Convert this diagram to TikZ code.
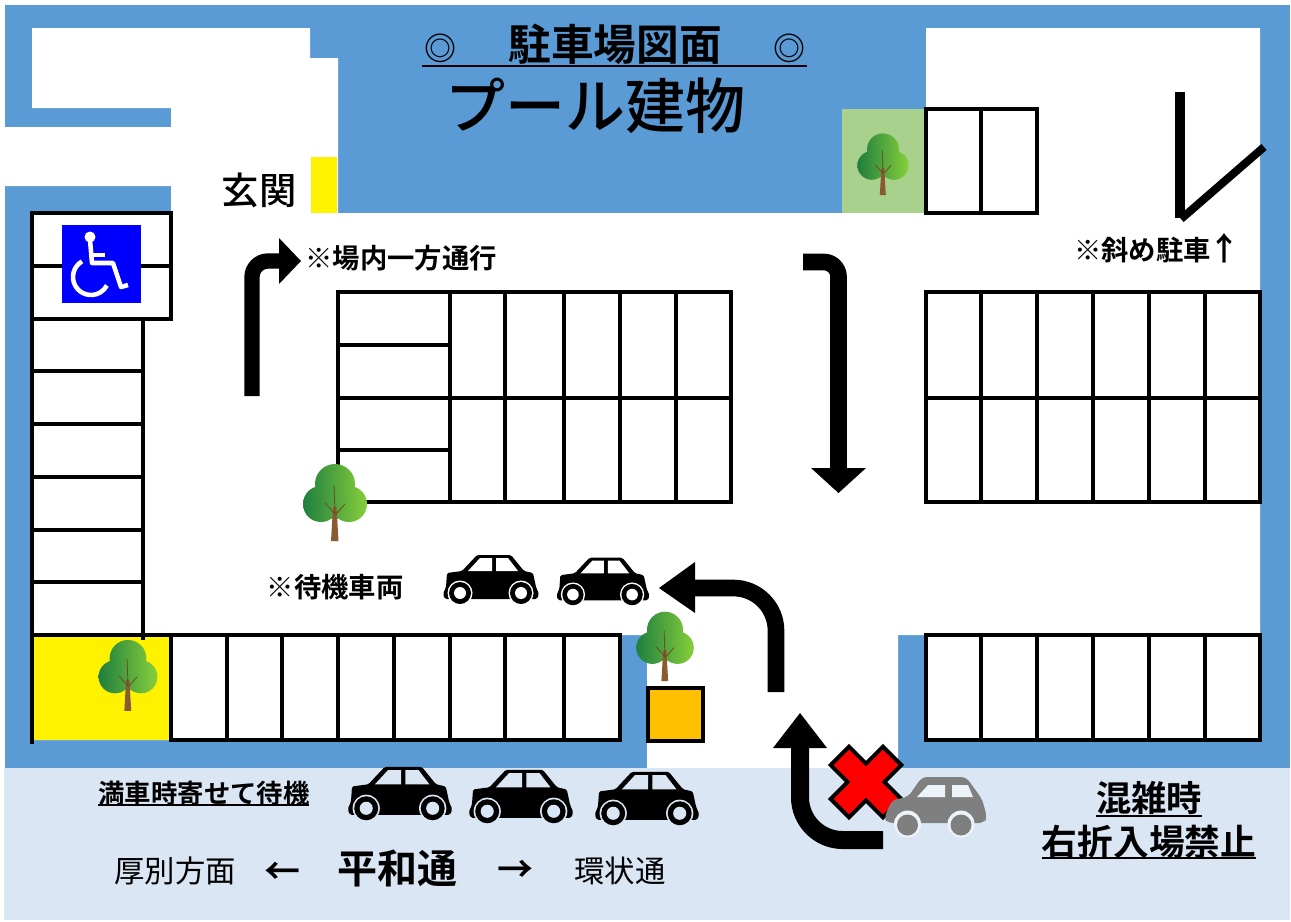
\documentclass[tikz,border=0pt]{standalone}
\usepackage{fontspec}
\newfontfamily\jp{Noto Sans CJK JP}[BoldFont={Noto Sans CJK JP Bold}]
\newfontfamily\jpm{Noto Sans CJK JP Medium}
\newcommand\fpx[1]{\fontsize{#1}{#1}\selectfont}
\definecolor{wallblue}{HTML}{5B9BD5}
\definecolor{roadblue}{HTML}{DAE6F3}
\definecolor{lawn}{HTML}{A9D18E}
\definecolor{amberbox}{HTML}{FFC000}
\definecolor{signblue}{HTML}{0000FF}
\definecolor{cargray}{HTML}{7F7F7F}
\definecolor{leafdark}{HTML}{1F7F3F}
\definecolor{leaflight}{HTML}{86CF3A}
\definecolor{trunkbrown}{HTML}{8A5A30}
\tikzset{
  stall/.style={draw=black,line width=3pt,line cap=rect},
  flow/.style={draw=black},
  lab/.style={font=\jp,inner sep=0pt,text=black},
  pics/car/.style 2 args={code={
    \fill[#1,rounded corners=1.2pt] (-48,15) -- (-45,8) -- (-44,-6) -- (-29,-8) -- (-14,-24) -- (20,-24) -- (33,-8) -- (42,-6) -- (45,8) -- (48,15) -- (46,20) -- (-46,20) -- cycle;
    \fill[#2] (-23,-8) -- (-11,-21) -- (1,-21) -- (1,-8) -- cycle;
    \fill[#2] (5,-21) -- (17,-21) -- (27,-8) -- (5,-8) -- cycle;
    \foreach \wx in {-31,30}{
      \fill[#2] (\wx,14) circle (12.5);
      \fill[#1] (\wx,14) circle (11);
      \fill[#2] (\wx,14) circle (6);
    }
  }},
  pics/hatch/.style 2 args={code={
    \fill[#1,rounded corners=4pt] (-52,15) -- (-44,-3) -- (-28,-6) -- (-14,-26) -- (30,-26) -- (46,-4) -- (51,14) -- (48,20) -- (-48,20) -- cycle;
    \fill[#2] (-19,-6) -- (-8,-18) -- (9,-18) -- (9,-6) -- cycle;
    \fill[#2] (16,-18) -- (32,-18) -- (37,-6) -- (16,-6) -- cycle;
    \foreach \wx in {-28.5,25}{
      \fill[#2] (\wx,21) circle (13.5);
      \fill[#1] (\wx,22) circle (10.5);
    }
  }},
  pics/tree/.style={code={
    \shade[left color=leafdark,right color=leaflight]
      (-14,3) circle (18) (14,3) circle (18) (0,-17) circle (20) (0,4) circle (14);
    \fill[trunkbrown] (-2,6) -- (1.5,6) -- (3.5,40) -- (-4,40) -- cycle;
    \draw[trunkbrown!80!black,line width=.6pt] (-1,-16) -- (0,12) (0,13) -- (-10,2) (1,13) -- (10,3);
  }}
}
\begin{document}
\begin{tikzpicture}[x=.75pt,y=-.75pt]
\useasboundingbox (0,0) rectangle (1291,921);
\fill[white] (0,0) rectangle (1291,921);
% walls
\fill[wallblue] (5,5) rectangle (1290,768);
\fill[white] (32,28) -- (310,28) -- (310,58) -- (338,58) -- (338,213) -- (926,213) -- (926,28) -- (1260,28) -- (1260,635) -- (898,635) -- (898,768) -- (647,768) -- (647,635) -- (620,635) -- (620,740) -- (32,740) -- (32,213) -- (171,213) -- (171,186) -- (0,186) -- (0,127) -- (171,127) -- (171,108) -- (32,108) -- cycle;
\fill[white] (926,635) rectangle (1260,740);
\fill[roadblue] (4,768) rectangle (1290,920);
\fill[yellow] (311,157) rectangle (337,213);
\fill[yellow] (33,637) rectangle (171,740);
\fill[lawn] (842,109) rectangle (926,213);
% wheelchair bays
\draw[stall] (32,213) rectangle (171,319) (32,266) -- (171,266);
\draw[stall] (32,319) -- (32,742) (143,319) -- (143,638);
\foreach \sy in {371,424,477,530,582}{\draw[stall] (32,\sy) -- (143,\sy);}
\draw[stall] (32,635) -- (171,635);
% bottom row
\draw[stall] (171,635) rectangle (620,740);
\foreach \sx in {227,282,338,394,450,505,564}{\draw[stall] (\sx,635) -- (\sx,740);}
% centre block
\draw[stall] (338,292) rectangle (731,502);
\draw[stall] (450,398) -- (731,398);
\foreach \sy in {345,398,450}{\draw[stall] (338,\sy) -- (450,\sy);}
\foreach \sx in {450,505,564,620,676}{\draw[stall] (\sx,292) -- (\sx,502);}
% right block
\draw[stall] (926,292) rectangle (1260,502);
\draw[stall] (926,398) -- (1260,398);
\foreach \sx in {981,1037,1093,1149,1205}{\draw[stall] (\sx,292) -- (\sx,502);}
% bottom right block
\draw[stall] (926,635) rectangle (1260,740);
\foreach \sx in {981,1037,1093,1149,1205}{\draw[stall] (\sx,635) -- (\sx,740);}
% top block
\draw[stall] (926,109) rectangle (1037,213) (981,109) -- (981,213);
% orange box
\draw[stall,fill=amberbox] (648,688) rectangle (703,741);
% diagonal bay
\fill[black] (1175,92) rectangle (1185,218);
\draw[black,line width=6pt] (1181,219) -- (1264,147);
% wheelchair sign
\fill[signblue] (62,225) rectangle (141,303);
\fill[white] (90,237) circle (5.5);
\draw[white,line width=3.4pt,line join=round] (90,240) -- (92,263) -- (113,263) -- (121,287) -- (128,285);
\draw[white,line width=3.4pt] (91,255) -- (105,255);
\draw[white,line width=3.4pt] (82,261.4) arc[start angle=-120,end angle=-332,radius=18];
% flow arrows
\draw[flow,line width=11.5pt,rounded corners=12pt] (252,396) -- (252,261) -- (282,261);
\fill[black] (279,238) -- (301,261) -- (279,284) -- cycle;
\draw[flow,line width=12.5pt,rounded corners=11pt] (803,262) -- (838.5,262) -- (838.5,470);
\fill[black] (811,468) -- (866,468) -- (838.5,493) -- cycle;
\draw[flow,line width=12.5pt,rounded corners=32pt] (776,692) -- (776,588) -- (694,588);
\fill[black] (695,562) -- (695,613) -- (659,588) -- cycle;
\draw[flow,line width=13.5pt,rounded corners=32pt] (883,840) -- (800,840) -- (800,746);
\fill[black] (773,748) -- (827,748) -- (800,713) -- cycle;
% no entry cross
\begin{scope}[shift={(866,782)},rotate=45]
\filldraw[fill=red,draw=black,line width=3pt,line join=miter] (-13,-37) -- (13,-37) -- (13,-13) -- (37,-13) -- (37,13) -- (13,13) -- (13,37) -- (-13,37) -- (-13,13) -- (-37,13) -- (-37,-13) -- (-13,-13) -- cycle;
\end{scope}
% cars
\pic at (491,579) {car={black}{white}};
\pic[scale=.97] at (603,581) {car={black}{white}};
\pic[scale=1.09] at (400,793) {car={black}{roadblue}};
\pic[scale=1.09] at (521,796) {car={black}{roadblue}};
\pic[scale=1.09] at (647,798) {car={black}{roadblue}};
\pic at (936,803) {hatch={cargray}{roadblue!50!white}};
% trees
\pic[scale=.8] at (883,163) {tree};
\pic at (335,501) {tree};
\pic[scale=.92] at (128,674) {tree};
\pic[scale=.9] at (665,645) {tree};
% texts
\node[lab,font=\jp\bfseries\fpx{32pt}] (title) at (615,44) {\makebox[1em]{\fpx{24pt}◎}\hspace{1.1em}駐車場図面\hspace{1.1em}\makebox[1em]{\fpx{24pt}◎}};
\draw[black,line width=1.2pt] (422,66) -- (807,66);
\node[lab,font=\jpm\fpx{45pt}] (pool) at (595,106) {プール建物};
\node[lab,font=\jpm\fpx{28pt}] (entrance) at (259,190) {玄関};
\node[lab,font=\jp\bfseries\fpx{20.5pt}] (oneway) at (401,258) {※場内一方通行};
\node[lab,font=\jp\bfseries\fpx{20.5pt}] (slant) at (1156,248) {※斜め駐車\makebox[1em]{\bfseries\fpx{24pt}↑}};
\node[lab,font=\jp\bfseries\fpx{20.5pt}] (waitcars) at (335,587) {※待機車両};
\node[lab,font=\jp\bfseries\fpx{19.8pt}] (fullwait) at (204,793) {満車時寄せて待機};
\draw[black,line width=1.2pt] (98,805) -- (309,805);
\node[lab,font=\jp\fpx{22.8pt}] (atsubetsu) at (175,871) {厚別方面};
\node[lab,font=\jp\bfseries\fpx{27pt}] (larrow) at (282,873) {←};
\node[lab,font=\jp\bfseries\fpx{30pt}] (heiwa) at (397,868) {平和通};
\node[lab,font=\jp\bfseries\fpx{27pt}] (rarrow) at (515,871) {→};
\node[lab,font=\jp\fpx{22.8pt}] (kanjo) at (620,871) {環状通};
\node[lab,font=\jp\bfseries\fpx{26.5pt}] (crowd) at (1149,798) {混雑時};
\draw[black,line width=1.2pt] (1096,816) -- (1202,816);
\node[lab,font=\jp\bfseries\fpx{26.8pt}] (noright) at (1149,842) {右折入場禁止};
\draw[black,line width=1.2pt] (1042,858) -- (1256,858);
\end{tikzpicture}
\end{document}
